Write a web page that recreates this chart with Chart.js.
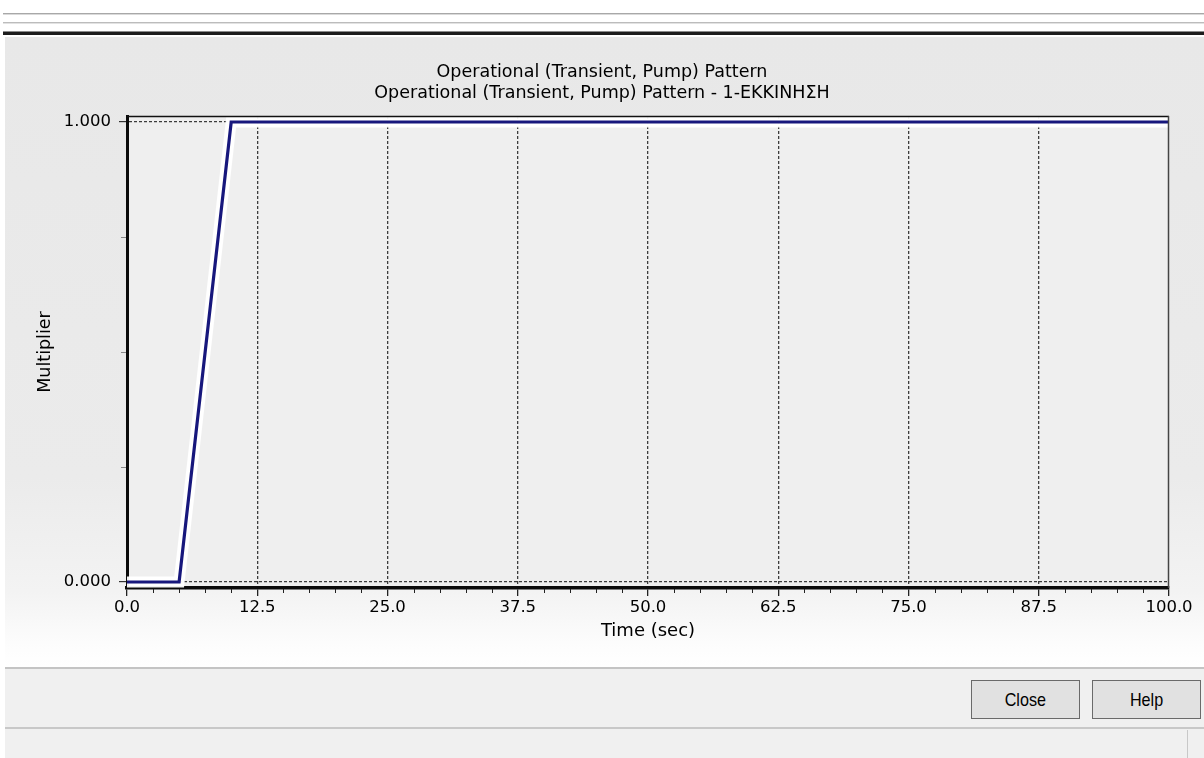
<!DOCTYPE html>
<html>
<head>
<meta charset="utf-8">
<script src="https://cdn.jsdelivr.net/npm/chart.js@4.4.1/dist/chart.umd.min.js"></script>
<style>
  html, body { margin:0; padding:0; width:1204px; height:758px; overflow:hidden; background:#ffffff; }
  .abs { position:absolute; }
  #panel { left:5px; top:37px; width:1199px; height:630px;
    background:linear-gradient(to bottom, #e8e8e8 0%, #ebebeb 70%, #f3f3f3 88%, #fcfcfc 96%, #ffffff 100%); }
  .btn { position:absolute; top:680px; height:37px; width:107px; background:#e1e1e1;
    border:1.5px solid #6a6a6a; display:flex; align-items:center; justify-content:center;
    font-family:"Liberation Sans", Arial, sans-serif; font-size:19px; color:#000; }
  .btn span { display:inline-block; transform:scaleX(0.85); }
  #c { position:absolute; left:0; top:0; }
</style>
</head>
<body>
<div class="abs" style="left:3px;top:13px;width:1201px;height:1px;background:#a8a8a8"></div>
<div class="abs" style="left:3px;top:14px;width:1201px;height:1px;background:#dadada"></div>
<div class="abs" style="left:3px;top:22px;width:1201px;height:1px;background:#bcbcbc"></div>
<div class="abs" style="left:3px;top:23px;width:1201px;height:1px;background:#e2e2e2"></div>
<div class="abs" style="left:3px;top:31px;width:1201px;height:1px;background:#8a8a8a"></div>
<div class="abs" style="left:3px;top:32px;width:1201px;height:3px;background:#1c1c1c"></div>
<div id="panel" class="abs"></div>
<div class="abs" style="left:5px;top:667px;width:1199px;height:2px;background:#c4c4c4"></div>
<div class="abs" style="left:5px;top:669px;width:1199px;height:58px;background:#f0f0f0"></div>
<div class="abs" style="left:5px;top:727px;width:1199px;height:2px;background:#c8c8c8"></div>
<div class="abs" style="left:5px;top:729px;width:1199px;height:29px;background:#f0f0f0"></div>
<div class="abs" style="left:1187px;top:730px;width:1px;height:28px;background:#c8c8c8"></div>
<div class="btn" style="left:971px"><span>Close</span></div>
<div class="btn" style="left:1092px"><span>Help</span></div>
<canvas id="c" width="1204" height="758"></canvas>
<script>
// ---- data ----
const timeSec = [0, 5, 10, 100];
const multiplier = [0, 0, 1, 1];
const xTickLabels = [0, 12.5, 25, 37.5, 50, 62.5, 75, 87.5, 100];
const xMinorTicks = [2.5, 5, 7.5, 10, 15, 17.5, 20, 22.5, 27.5, 30, 32.5, 35, 40, 42.5, 45, 47.5,
  52.5, 55, 57.5, 60, 65, 67.5, 70, 72.5, 77.5, 80, 82.5, 85, 90, 92.5, 95, 97.5];
const yTickLabels = [0, 1];
const yMinorTicks = [0.25, 0.5, 0.75];
const titleLines = ['Operational (Transient, Pump) Pattern',
  'Operational (Transient, Pump) Pattern - 1-ΕΚΚΙΝΗΣΗ'];
const xTitle = 'Time (sec)';
const yTitle = 'Multiplier';

Chart.defaults.font.family = '"DejaVu Sans", Verdana, sans-serif';
Chart.defaults.color = '#000';

const points = timeSec.map((t, i) => ({ x: t, y: multiplier[i] }));

const plotBg = {
  id: 'plotBg',
  beforeDraw(chart) {
    const { ctx, chartArea: a } = chart;
    ctx.save();
    ctx.fillStyle = '#efefef';
    ctx.fillRect(a.left, a.top, a.right - a.left, a.bottom - a.top);
    ctx.restore();
  }
};

const frameAndMinor = {
  id: 'frameAndMinor',
  afterDraw(chart) {
    const { ctx, chartArea: a } = chart;
    const xs = chart.scales.x, ys = chart.scales.y;
    ctx.save();
    ctx.strokeStyle = '#111';
    ctx.lineWidth = 1.5;
    ctx.beginPath();
    ctx.moveTo(a.left, a.top + 0.5); ctx.lineTo(a.right, a.top + 0.5);
    ctx.stroke();
    ctx.strokeStyle = '#444';
    ctx.beginPath();
    ctx.moveTo(a.right - 0.5, a.top); ctx.lineTo(a.right - 0.5, a.bottom);
    ctx.stroke();
    // minor x ticks
    ctx.strokeStyle = '#222';
    ctx.lineWidth = 1;
    xMinorTicks.forEach(v => {
      const px = Math.round(xs.getPixelForValue(v)) + 0.5;
      ctx.beginPath(); ctx.moveTo(px, a.bottom + 1); ctx.lineTo(px, a.bottom + 5); ctx.stroke();
    });
    // minor y ticks
    ctx.strokeStyle = '#888';
    yMinorTicks.forEach(v => {
      const py = Math.round(ys.getPixelForValue(v)) + 0.5;
      ctx.beginPath(); ctx.moveTo(a.left - 6, py); ctx.lineTo(a.left - 1, py); ctx.stroke();
    });
    ctx.restore();
  }
};

new Chart(document.getElementById('c'), {
  type: 'line',
  data: {
    datasets: [
      { data: points, borderColor: '#17177c', borderWidth: 3.2, pointRadius: 0, tension: 0, order: 0, borderJoinStyle: 'miter' },
      { data: points, borderColor: 'rgba(255,255,255,0.95)', borderWidth: 11, pointRadius: 0, tension: 0, order: 1 }
    ]
  },
  options: {
    responsive: false,
    animation: false,
    events: [],
    layout: { padding: 0 },
    plugins: {
      legend: { display: false },
      tooltip: { enabled: false },
      title: {
        display: true,
        text: titleLines,
        font: { size: 17.5, weight: 'normal', lineHeight: 1.2 },
        color: '#000',
        padding: { top: 61.5, bottom: 12.5 }
      }
    },
    scales: {
      x: {
        type: 'linear',
        min: 0, max: 100,
        afterBuildTicks: s => { s.ticks = xTickLabels.map(v => ({ value: v })); },
        afterFit: s => { s.height = 170; },
        ticks: { callback: v => Number(v).toFixed(1), font: { size: 16.5 }, color: '#000',
          padding: 2, autoSkip: false, maxRotation: 0, minRotation: 0 },
        grid: {
          color: c => (c.tick && (c.tick.value === 0 || c.tick.value === 100)) ? 'rgba(0,0,0,0)' : '#3c3c3c',
          lineWidth: 1.3, tickLength: 8, tickColor: '#222', tickWidth: 1.3
        },
        border: { display: true, color: '#0a0a0a', width: 3.5, dash: [3, 2] },
        title: { display: true, text: xTitle, font: { size: 18 }, color: '#000', padding: { top: 0, bottom: 116 } }
      },
      y: {
        type: 'linear',
        min: -0.013, max: 1.013,
        afterBuildTicks: s => { s.ticks = yTickLabels.map(v => ({ value: v })); },
        afterFit: s => { s.width = 127; },
        ticks: { callback: v => Number(v).toFixed(3), font: { size: 16.5 }, color: '#000', padding: 8 },
        grid: { color: '#3c3c3c', lineWidth: 1.2, tickLength: 8, tickColor: '#333' },
        border: { display: true, color: '#0a0a0a', width: 3, dash: [3, 2] },
        title: { display: true, text: yTitle, font: { size: 17.5 }, color: '#000', padding: { top: 34.5, bottom: 0 } }
      },
      yRight: {
        type: 'linear',
        position: 'right',
        min: 0, max: 1,
        afterFit: s => { s.width = 35; },
        ticks: { display: false },
        grid: { display: false },
        border: { display: false }
      }
    }
  },
  plugins: [plotBg, frameAndMinor]
});
</script>
</body>
</html>
